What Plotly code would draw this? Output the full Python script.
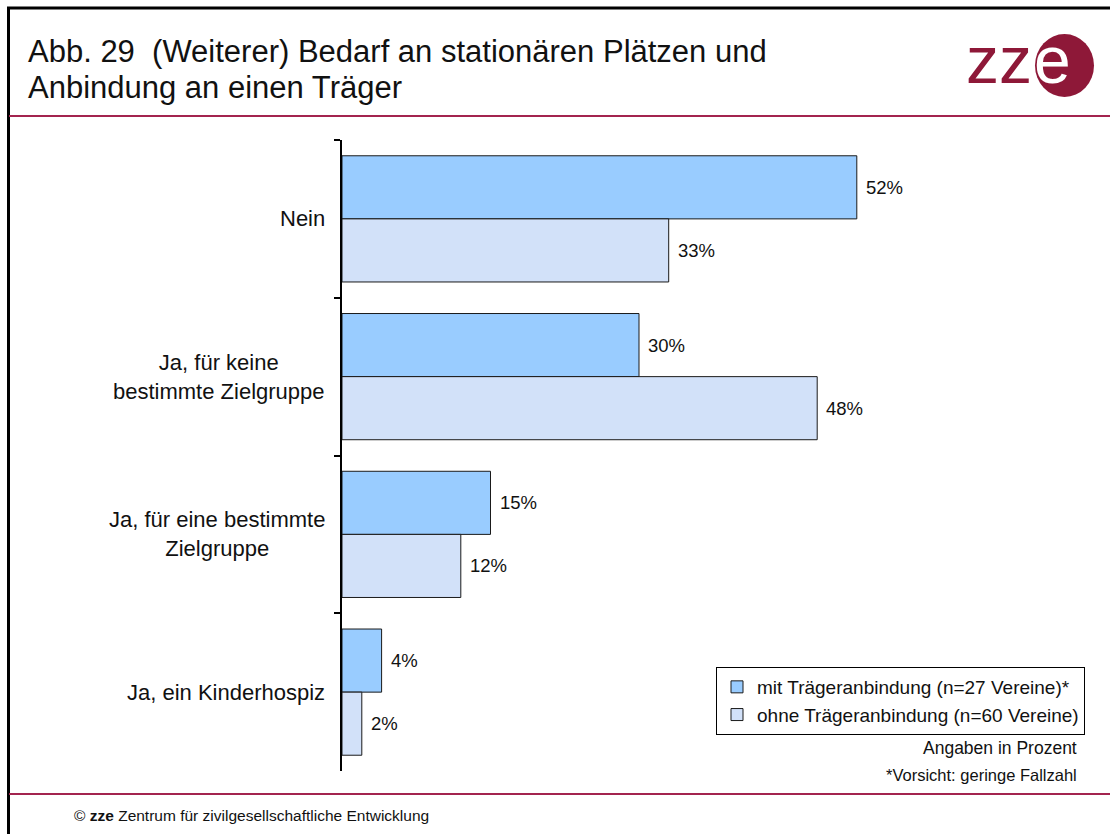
import plotly.graph_objects as go

# ---- data ----
categories = [
    "Nein",
    "Ja, für keine bestimmte Zielgruppe",
    "Ja, für eine bestimmte Zielgruppe",
    "Ja, ein Kinderhospiz",
]
category_labels = [
    "Nein",
    "Ja, für keine<br>bestimmte Zielgruppe",
    "Ja, für eine bestimmte<br>Zielgruppe",
    "Ja, ein Kinderhospiz",
]
mit_traeger = [52, 30, 15, 4]
ohne_traeger = [33, 48, 12, 2]
series_names = [
    "mit Trägeranbindung (n=27 Vereine)*",
    "ohne Trägeranbindung (n=60 Vereine)",
]
title_lines = [
    "Abb. 29  (Weiterer) Bedarf an stationären Plätzen und",
    "Anbindung an einen Träger",
]

# ---- page geometry (pixels) ----
W_PAGE, H_PAGE = 1110, 834
PLOT_L, PLOT_R, PLOT_T, PLOT_B = 342, 936, 140, 771
PLOT_W = PLOT_R - PLOT_L
PLOT_H = PLOT_B - PLOT_T
X_MAX = 60

CRIMSON = "#8E1838"
RULE = "#A3244F"
FONT = "Liberation Sans, Arial, Helvetica, sans-serif"
INK = "#111111"


def px(x):
    return (x - PLOT_L) / PLOT_W


def py(y):
    return (PLOT_B - y) / PLOT_H


fig = go.Figure()
fig.add_trace(go.Bar(
    y=categories, x=mit_traeger, orientation="h", name=series_names[0],
    marker=dict(color="#99CCFF", line=dict(color="#1a1a1a", width=1)),
))
fig.add_trace(go.Bar(
    y=categories, x=ohne_traeger, orientation="h", name=series_names[1],
    marker=dict(color="#D2E1F9", line=dict(color="#1a1a1a", width=1)),
))

annotations = []
# value labels next to each bar
for i, cat in enumerate(categories):
    for val, shift in ((mit_traeger[i], -0.2), (ohne_traeger[i], 0.2)):
        annotations.append(dict(
            x=val, y=i + shift, xref="x", yref="y", text=f"{val}%",
            xanchor="left", yanchor="middle", xshift=7, showarrow=False,
            font=dict(size=18.5, color=INK, family=FONT),
        ))

# category labels, centred line by line
for i, lab in enumerate(category_labels):
    annotations.append(dict(
        x=0, y=i, xref="paper", yref="y", text=lab, xanchor="right",
        yanchor="middle", align="center", xshift=-15, showarrow=False,
        font=dict(size=22, color=INK, family=FONT),
    ))

# title, one annotation per line
for line, ypix in zip(title_lines, (52, 88)):
    annotations.append(dict(
        x=px(26), y=py(ypix), xref="paper", yref="paper", xanchor="left",
        yanchor="middle", align="left", showarrow=False, text=line,
        font=dict(size=31, color=INK, family=FONT),
    ))

# logo lettering
annotations.append(dict(
    x=px(999), y=py(60), xref="paper", yref="paper", xanchor="center",
    yanchor="middle", showarrow=False, text="zz",
    font=dict(size=66, color=CRIMSON, family=FONT),
))
annotations.append(dict(
    x=px(1052), y=py(60), xref="paper", yref="paper", xanchor="center",
    yanchor="middle", showarrow=False, text="e",
    font=dict(size=66, color="white", family=FONT),
))

# notes
annotations.append(dict(
    x=px(1079), y=py(748), xref="paper", yref="paper", xanchor="right",
    yanchor="middle", showarrow=False, text="Angaben in Prozent",
    font=dict(size=17.5, color=INK, family=FONT),
))
annotations.append(dict(
    x=px(1079), y=py(775), xref="paper", yref="paper", xanchor="right",
    yanchor="middle", showarrow=False, text="*Vorsicht: geringe Fallzahl",
    font=dict(size=16.5, color=INK, family=FONT),
))

# footer
annotations.append(dict(
    x=px(72), y=py(815), xref="paper", yref="paper", xanchor="left",
    yanchor="middle", showarrow=False,
    text="© <b>zze</b> Zentrum für zivilgesellschaftliche Entwicklung",
    font=dict(size=15.5, color=INK, family=FONT),
))

shapes = [
    # frame
    dict(type="line", xref="paper", yref="paper", x0=px(7), x1=px(W_PAGE),
         y0=py(8), y1=py(8), line=dict(color="black", width=3)),
    dict(type="line", xref="paper", yref="paper", x0=px(8.5), x1=px(8.5),
         y0=py(7), y1=py(H_PAGE), line=dict(color="black", width=3)),
    # crimson rules
    dict(type="line", xref="paper", yref="paper", x0=px(9), x1=px(W_PAGE),
         y0=py(116), y1=py(116), line=dict(color=RULE, width=2)),
    dict(type="line", xref="paper", yref="paper", x0=px(9), x1=px(W_PAGE),
         y0=py(794), y1=py(794), line=dict(color=RULE, width=2)),
    # logo disc
    dict(type="circle", xref="paper", yref="paper", x0=px(1035), x1=px(1094),
         y0=py(97), y1=py(34), fillcolor=CRIMSON, line=dict(width=0),
         layer="below"),
]

fig.update_layout(
    width=W_PAGE, height=H_PAGE,
    margin=dict(l=PLOT_L, r=W_PAGE - PLOT_R, t=PLOT_T, b=H_PAGE - PLOT_B, pad=0),
    paper_bgcolor="white", plot_bgcolor="white",
    barmode="group", bargap=0.2, bargroupgap=0,
    font=dict(family=FONT, color=INK),
    showlegend=True,
    legend=dict(
        x=px(1085), xanchor="right", y=py(667), yanchor="top",
        bordercolor="black", borderwidth=1, bgcolor="white",
        font=dict(size=19, family=FONT, color=INK),
        traceorder="normal", itemclick=False,
    ),
    xaxis=dict(range=[0, X_MAX], visible=False, fixedrange=True),
    yaxis=dict(
        type="category", range=[3.5, -0.5], tickson="boundaries",
        ticks="outside", ticklen=6, tickwidth=1.5, tickcolor="black",
        showticklabels=False, showline=True, linecolor="black", linewidth=1.5,
        showgrid=False, zeroline=False, fixedrange=True,
    ),
    annotations=annotations,
    shapes=shapes,
)

fig.write_html("out.html")
